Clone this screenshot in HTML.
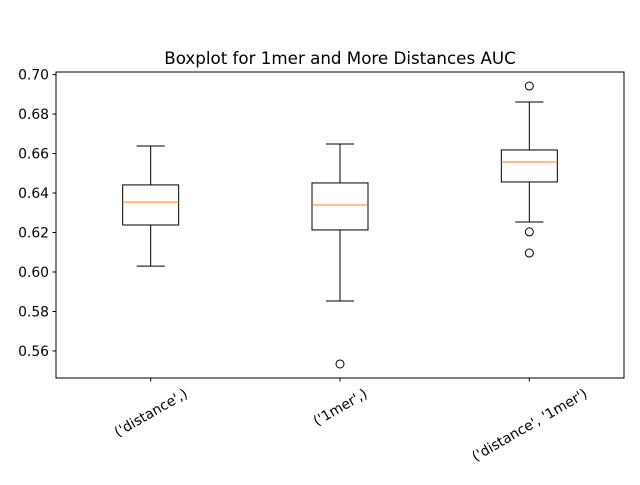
<!DOCTYPE html>
<html><head><meta charset="utf-8"><style>body{margin:0;background:#fff}svg{font-family:"DejaVu Sans","Liberation Sans",sans-serif}</style></head>
<body>
<svg id="c" width="640" height="480" xmlns="http://www.w3.org/2000/svg">
<rect width="640" height="480" fill="#fff"/>
<text x="340" y="64" font-size="16.7" text-anchor="middle">Boxplot for 1mer and More Distances AUC</text>
<g id="plot"></g>
<rect x="56" y="72" width="568" height="306" fill="none" stroke="#000" stroke-width="1"/>
</svg>
<script>
const categories = ["('distance',)", "('1mer',)", "('distance', '1mer')"];
const whiskerHigh = [0.6638, 0.6648, 0.6861];
const q3 = [0.6441, 0.6451, 0.6618];
const medians = [0.6354, 0.6339, 0.6557];
const q1 = [0.6238, 0.6213, 0.6456];
const whiskerLow = [0.6030, 0.5853, 0.6253];
const outliers = [[], [0.5534], [0.6942, 0.6203, 0.6096]];
const yTicks = [0.56, 0.58, 0.60, 0.62, 0.64, 0.66, 0.68, 0.70];

const NS = "http://www.w3.org/2000/svg";
const plotG = document.getElementById('plot');
const yMin = 0.5463, yMax = 0.7013, plotTop = 72, plotBot = 378;
function yScale(v){ return plotBot - (v - yMin) / (yMax - yMin) * (plotBot - plotTop); }
function xScale(i){ return 56 + 568 * (i + 0.5) / categories.length; }
function el(t, a){ const e = document.createElementNS(NS, t); for (const k in a) e.setAttribute(k, a[k]); plotG.appendChild(e); return e; }

yTicks.forEach(t => {
  const yy = yScale(t);
  const tk = el('line', {x1: 52.5, x2: 56, y1: yy, y2: yy, stroke: '#000'});
  
  
  const tx = el('text', {x: 49, y: yy + 5, 'font-size': 13.9, 'text-anchor': 'end'});
  tx.textContent = t.toFixed(2);
  
  
});

categories.forEach((c, i) => {
  const cx = xScale(i), hw = 28, cw = 14;
  const grp = document.createElementNS(NS, 'g');
  plotG.appendChild(grp);
  
  
  function add(t, a){ const e = document.createElementNS(NS, t); for (const k in a) e.setAttribute(k, a[k]); grp.appendChild(e); return e; }
  add('line', {x1: cx, x2: cx, y1: yScale(whiskerHigh[i]), y2: yScale(q3[i]), stroke: '#000'});
  add('line', {x1: cx, x2: cx, y1: yScale(q1[i]), y2: yScale(whiskerLow[i]), stroke: '#000'});
  add('line', {x1: cx - cw, x2: cx + cw, y1: yScale(whiskerHigh[i]), y2: yScale(whiskerHigh[i]), stroke: '#000'});
  add('line', {x1: cx - cw, x2: cx + cw, y1: yScale(whiskerLow[i]), y2: yScale(whiskerLow[i]), stroke: '#000'});
  add('rect', {x: cx - hw, y: yScale(q3[i]), width: 2 * hw, height: yScale(q1[i]) - yScale(q3[i]), fill: 'none', stroke: '#000'});
  add('line', {x1: cx - hw, x2: cx + hw, y1: yScale(medians[i]), y2: yScale(medians[i]), stroke: '#ff7f0e'});
  outliers[i].forEach(o => {
    const p = add('circle', {cx: cx, cy: yScale(o), r: 4, fill: 'none', stroke: '#000'});
    
    
  });
  const tk = el('line', {x1: cx, x2: cx, y1: 378, y2: 381.5, stroke: '#000'});
  
  
  const tx = el('text', {x: 0, y: 5, 'font-size': 13.9, 'text-anchor': 'middle'});
  tx.textContent = c;
  
  
  const w = tx.getComputedTextLength();
  const halfH = (w / 2) * 0.5 + 7 * 0.866;
  tx.setAttribute('transform', `translate(${cx} ${386 + halfH}) rotate(-30)`);
});
</script>
</body></html>
